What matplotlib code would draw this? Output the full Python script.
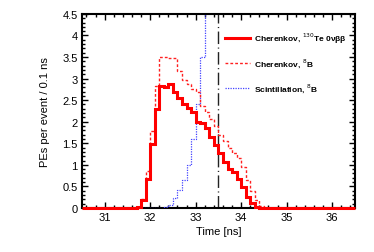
import numpy as np
import matplotlib
matplotlib.use("Agg")
import matplotlib.pyplot as plt
from matplotlib.ticker import MultipleLocator

plt.rcParams['font.family'] = ['Liberation Sans', 'DejaVu Sans']

# ---- data (PEs per event per 0.1 ns bin) ----
bin_width = 0.1
x_min, x_max = 30.5, 36.5

cher_te_start = 31.7
cher_te = [0.02, 0.18, 0.68, 1.48, 2.30, 2.82, 2.80, 2.88, 2.70, 2.55, 2.42,
           2.32, 2.22, 2.00, 1.97, 1.85, 1.65, 1.45, 1.28, 1.06, 0.90, 0.83,
           0.67, 0.48, 0.26, 0.12, 0.02]

cher_b8_start = 31.7
cher_b8 = [0.03, 0.20, 0.85, 1.78, 2.83, 3.50, 3.50, 3.48, 3.48, 3.17, 2.97,
           2.88, 2.76, 2.68, 2.36, 2.22, 2.06, 1.90, 1.70, 1.55, 1.40, 1.28,
           1.15, 0.95, 0.65, 0.40, 0.18, 0.05]

scint_b8_start = 32.2
scint_b8 = [0.01, 0.03, 0.08, 0.22, 0.42, 0.65, 1.00, 1.60, 2.42, 3.50, 6.0]
# last bin of scintillation stays off the plotted range to the end

cut_time = 33.5

labels = ['Cherenkov, $^{130}$Te 0νββ',
          'Cherenkov, $^{8}$B',
          'Scintillation, $^{8}$B']


def full_hist(start, vals, extend_last=False):
    n_pre = int(round((start - x_min) / bin_width))
    v = np.concatenate([np.zeros(n_pre), np.asarray(vals, float)])
    edges = np.round(x_min + bin_width * np.arange(len(v) + 1), 3)
    if extend_last:
        edges[-1] = x_max
    else:
        v = np.concatenate([v, [0.0]])
        edges = np.append(edges, x_max)
    return edges, v


fig = plt.figure(figsize=(3.74, 2.53), dpi=100)
ax = fig.add_axes([0.219, 0.174, 0.730, 0.767])

e, v = full_hist(scint_b8_start, scint_b8, extend_last=True)
h3 = ax.stairs(v, e, color='#4444ff', lw=0.9, ls=(0, (1, 1)), baseline=None,
               label=labels[2], zorder=3)
e, v = full_hist(cher_b8_start, cher_b8)
h2 = ax.stairs(v, e, color='#ff2020', lw=1.0, ls=(0, (2, 1.5)), baseline=None,
               label=labels[1], zorder=3)
e, v = full_hist(cher_te_start, cher_te)
h1 = ax.stairs(v, e, color='#ff0000', lw=2.2, baseline=None, label=labels[0],
               zorder=3.5, clip_on=False)

ax.axvline(cut_time, color='#222222', lw=1.0, ls=(0, (9, 2.5, 0.8, 2.5)))

ax.set_xlim(x_min, x_max)
ax.set_ylim(0, 4.5)

ax.xaxis.set_major_locator(MultipleLocator(1))
ax.xaxis.set_minor_locator(MultipleLocator(0.2))
ax.yaxis.set_major_locator(MultipleLocator(0.5))
ax.yaxis.set_minor_locator(MultipleLocator(0.1))
ax.yaxis.set_major_formatter(plt.FuncFormatter(lambda y, p: f'{y:g}'))

ax.tick_params(which='both', direction='in', top=True, right=True,
               labelsize=8, width=1.0, pad=3)
ax.tick_params(which='major', length=4.5)
ax.tick_params(which='minor', length=2.5)
for s in ax.spines.values():
    s.set_linewidth(1.5)
    s.set_zorder(2.5)

ax.set_xlabel('Time [ns]', fontsize=8, labelpad=3)
ax.set_ylabel('PEs per event / 0.1 ns', fontsize=8, labelpad=9)

leg = ax.legend(handles=[h1, h2, h3], loc='upper left',
                bbox_to_anchor=(0.525, 0.915), frameon=False,
                prop={'weight': 'bold', 'size': 6},
                handlelength=3.0, handletextpad=0.5, labelspacing=1.4,
                borderpad=0, borderaxespad=0)

fig.savefig('out.png', dpi=100)
